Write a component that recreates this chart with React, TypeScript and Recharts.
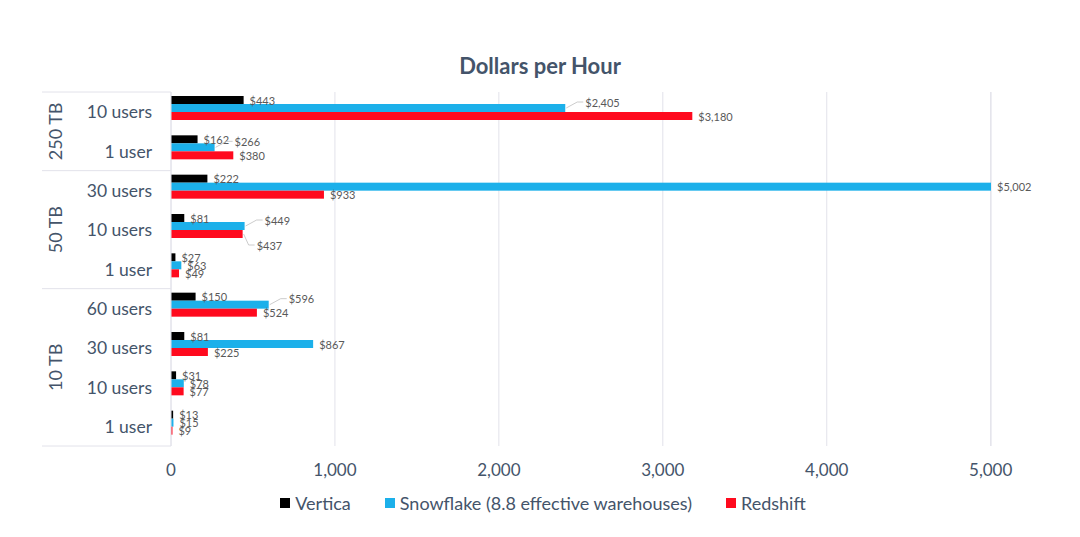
import { BarChart, Bar, XAxis, YAxis, CartesianGrid, Legend, LabelList } from 'recharts'

// rows top to bottom
const rowLabels = ['10 users', '1 user', '30 users', '10 users', '1 user', '60 users', '30 users', '10 users', '1 user']
const groupNames = ['250 TB', '50 TB', '10 TB']
const groupSizes = [2, 3, 4]

const vertica = [443, 162, 222, 81, 27, 150, 81, 31, 13]
const snowflake = [2405, 266, 5002, 449, 63, 596, 867, 78, 15]
const redshift = [3180, 380, 933, 437, 49, 524, 225, 77, 9]

const xTicks = [0, 1000, 2000, 3000, 4000, 5000]

const series = [
  { key: 'vertica', name: 'Vertica', color: '#000000' },
  { key: 'snowflake', name: 'Snowflake (8.8 effective warehouses)', color: '#1CB0EA' },
  { key: 'redshift', name: 'Redshift', color: '#FF0A1E' },
]

const W = 1064
const H = 521
const M = { top: 84, right: 81, bottom: 14, left: 34 }
const Y_AXIS_W = 129
const X_AXIS_H = 45
const LEGEND_H = 24
const PLOT_LEFT = M.left + Y_AXIS_W
const PLOT_H = H - M.top - M.bottom - X_AXIS_H - LEGEND_H
const BAND = PLOT_H / rowLabels.length
const BAR_SHIFT = -4 // excel draws the bar cluster a little above the band centre

const TEXT = '#44546A'
const LINE = '#E2E2EA'
const LABEL = '#595959'

const rowGroup: number[] = []
groupSizes.forEach((n, g) => {
  for (let i = 0; i < n; i++) rowGroup.push(g)
})

const data = rowLabels.map((label, i) => ({
  id: `${groupNames[rowGroup[i]]}-${label}`,
  label,
  vertica: vertica[i],
  snowflake: snowflake[i],
  redshift: redshift[i],
}))

const money = (v: number) => `$${Number(v).toLocaleString('en-US')}`

// snowflake label gets pushed out with a leader line when the red bar crowds it
const snowLeader = (i: number) => snowflake[i] >= 100 && redshift[i] >= 0.75 * snowflake[i]
const redLeader = (i: number) => snowLeader(i) && Math.abs(redshift[i] - snowflake[i]) < 0.1 * snowflake[i]

function CategoryTick(props: any) {
  const { y, index } = props
  const g = rowGroup[index]
  const first = index === 0 || rowGroup[index - 1] !== g
  const last = index === rowLabels.length - 1
  const n = groupSizes[g]
  const gy = y + ((n - 1) * BAND) / 2
  return (
    <g>
      <text x={PLOT_LEFT - 19} y={y} textAnchor="end" dominantBaseline="central" fill={TEXT} fontSize={17.5}>
        {rowLabels[index]}
      </text>
      {first && (
        <>
          <line x1={M.left} x2={PLOT_LEFT} y1={y - BAND / 2} y2={y - BAND / 2} stroke={LINE} />
          <text
            x={47}
            y={gy}
            textAnchor="middle"
            dominantBaseline="central"
            fill={TEXT}
            fontSize={18}
            transform={`rotate(-90, 47, ${gy})`}
          >
            {groupNames[g]}
          </text>
        </>
      )}
      {last && <line x1={M.left} x2={PLOT_LEFT} y1={y + BAND / 2} y2={y + BAND / 2} stroke={LINE} />}
    </g>
  )
}

function ShiftedBar(props: any) {
  const { x, y, width, height, fill } = props
  return <rect x={x} y={y + BAR_SHIFT} width={Math.max(width, 0)} height={height} fill={fill} />
}

const makeLabel = (key: string) => (props: any) => {
  const { x, y, width, height, value, index } = props
  const endX = x + width
  const cy = y + height / 2 + BAR_SHIFT
  let dx = 6
  let dy = 0
  let leader = false
  if (key === 'snowflake' && snowLeader(index)) {
    dx = 20
    dy = -6
    leader = true
  }
  if (key === 'redshift' && redLeader(index)) {
    dx = 14
    dy = 11
    leader = true
  }
  return (
    <g>
      {leader && (
        <polyline
          points={`${endX + 1},${cy} ${endX + dx - 8},${cy + dy} ${endX + dx - 2},${cy + dy}`}
          fill="none"
          stroke="#BFBFBF"
          strokeWidth={0.8}
        />
      )}
      <text x={endX + dx} y={cy + dy} dominantBaseline="central" fill={LABEL} fontSize={11}>
        {money(value)}
      </text>
    </g>
  )
}

function LegendContent() {
  return (
    <div
      style={{
        display: 'flex',
        justifyContent: 'center',
        gap: 34,
        paddingLeft: 53,
        fontSize: 18,
        color: TEXT,
        lineHeight: '24px',
      }}
    >
      {series.map((s) => (
        <div key={s.key} style={{ display: 'flex', alignItems: 'center' }}>
          <span style={{ width: 10, height: 10, background: s.color, marginRight: 5, display: 'inline-block' }} />
          {s.name}
        </div>
      ))}
    </div>
  )
}

export default function App() {
  return (
    <div style={{ position: 'relative', width: W, height: H, fontFamily: 'Lato, sans-serif', background: '#fff' }}>
      <div
        style={{
          position: 'absolute',
          top: 44,
          left: 0,
          width: W,
          textAlign: 'center',
          fontSize: 22,
          fontWeight: 700,
          color: TEXT,
          lineHeight: '28px',
        }}
      >
        Dollars per Hour
      </div>
      <BarChart width={W} height={H} data={data} layout="vertical" margin={M} barGap={0} barSize={8}>
        <CartesianGrid horizontal={false} stroke={LINE} />
        <XAxis
          type="number"
          domain={[0, 5002]}
          ticks={xTicks}
          height={X_AXIS_H}
          axisLine={false}
          tickLine={false}
          tickMargin={12}
          tick={{ fill: TEXT, fontSize: 17 }}
          tickFormatter={(v: number) => v.toLocaleString('en-US')}
        />
        <YAxis
          type="category"
          dataKey="id"
          width={Y_AXIS_W}
          axisLine={{ stroke: LINE }}
          tickLine={false}
          tick={<CategoryTick />}
          interval={0}
        />
        <Legend verticalAlign="bottom" height={LEGEND_H} content={<LegendContent />} />
        {series.map((s) => (
          <Bar key={s.key} dataKey={s.key} name={s.name} fill={s.color} shape={<ShiftedBar />} isAnimationActive={false}>
            <LabelList dataKey={s.key} content={makeLabel(s.key)} />
          </Bar>
        ))}
      </BarChart>
    </div>
  )
}
